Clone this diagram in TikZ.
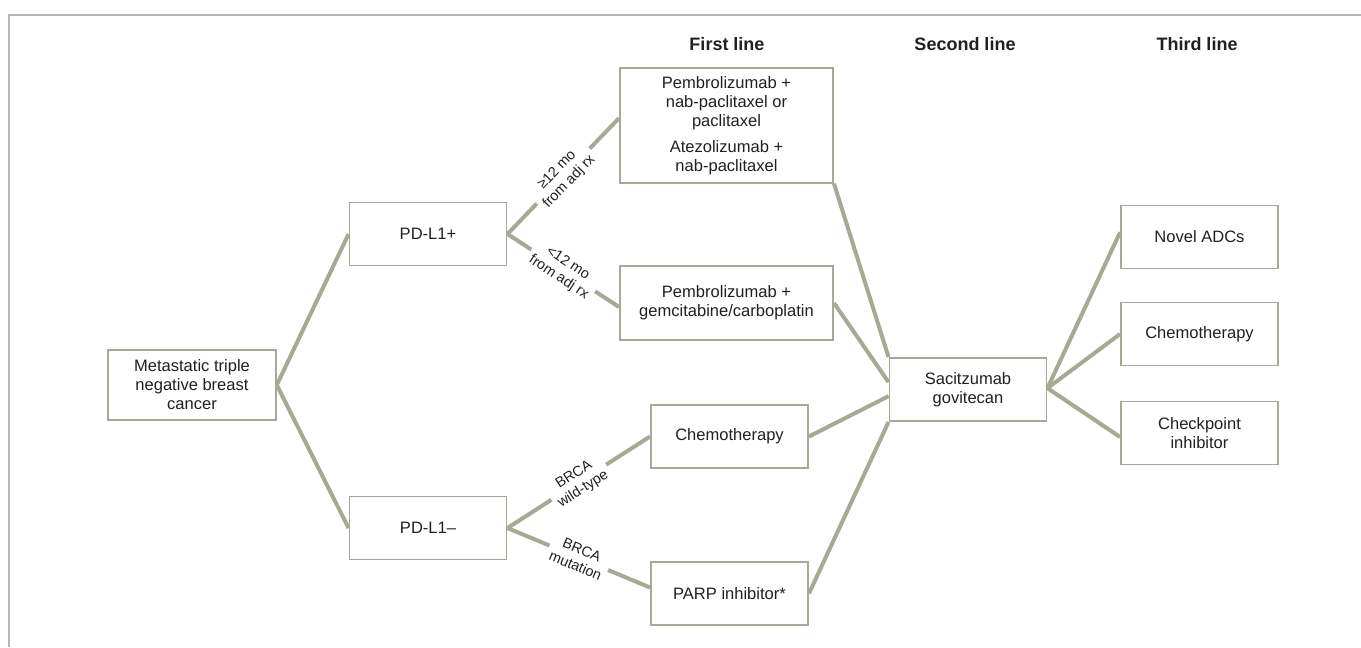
\documentclass[tikz,border=0pt]{standalone}
\usepackage{fontspec}
\setmainfont{Liberation Sans}
\usepackage{xcolor}

\definecolor{linegrey}{RGB}{168,168,150}
\definecolor{framegrey}{RGB}{184,184,176}
\definecolor{textgrey}{RGB}{35,31,32}

\tikzset{
  box/.style={draw=linegrey, line width=1.2pt, fill=white, align=center, text=textgrey,
    inner sep=2pt, minimum width=118pt, minimum height=47.5pt,
    font=\fontsize{12.4}{14.3}\selectfont},
  link/.style={draw=linegrey, line width=3pt},
  tag/.style={midway, sloped, fill=white, align=center, text=textgrey, inner sep=3pt,
    font=\fontsize{10.8}{12.6}\selectfont},
  head/.style={text=textgrey, font=\fontsize{13.5}{16}\selectfont\bfseries}
}

\begin{document}
\begin{tikzpicture}[x=0.75pt,y=-0.75pt]
    \useasboundingbox (0,0) rectangle (1361,647);

    % Draw the frame
    \draw[framegrey, line width=1pt] (9,647) |- (1361,15);

    % Draw column heads
    \node[head] (first) at (727,44) {First line};
    \node[head] (second) at (965,44) {Second line};
    \node[head] (third) at (1197,44) {Third line};

    % Draw the boxes
    \node[box, minimum width=126pt, minimum height=52.5pt] (meta) at (192,385) {Metastatic triple\\negative breast\\cancer};
    \node[box] (pdpos) at (428,234) {PD-L1+};
    \node[box] (pdneg) at (428,528) {PD-L1--};
    \node[box, minimum width=160pt, minimum height=86pt] (pembro) at (726.5,125.5) {Pembrolizumab +\\nab-paclitaxel or\\paclitaxel\\[5pt]Atezolizumab +\\nab-paclitaxel};
    \node[box, minimum width=160pt, minimum height=55.5pt] (gemcarbo) at (726.5,303) {Pembrolizumab +\\gemcitabine/carboplatin};
    \node[box] (chemofirst) at (729.5,436.5) {Chemotherapy};
    \node[box] (parp) at (729.5,593.5) {PARP inhibitor*};
    \node[box] (sg) at (968,389.5) {Sacitzumab\\govitecan};
    \node[box] (adc) at (1199.5,237) {Novel ADCs};
    \node[box] (chemothird) at (1199.5,334) {Chemotherapy};
    \node[box] (cpi) at (1199.5,433) {Checkpoint\\inhibitor};

    % Draw the branches
    \draw[link] (meta.east) -- (pdpos.west);
    \draw[link] (meta.east) -- (pdneg.west);
    \draw[link] (pdpos.east) -- ([yshift=5.5pt]pembro.west) node[tag] {≥12 mo\\from adj rx};
    \draw[link] (pdpos.east) -- ([yshift=-3pt]gemcarbo.west) node[tag] {<12 mo\\from adj rx};
    \draw[link] (pdneg.east) -- (chemofirst.west) node[tag] {BRCA\\wild-type};
    \draw[link] (pdneg.east) -- ([yshift=4.5pt]parp.west) node[tag] {BRCA\\mutation};

    % Draw the second line links
    \draw[link] (pembro.south east) -- (sg.north west);
    \draw[link] (gemcarbo.east) -- ([yshift=5.5pt]sg.west);
    \draw[link] (chemofirst.east) -- ([yshift=-5pt]sg.west);
    \draw[link] (parp.east) -- (sg.south west);

    % Draw the third line links
    \draw[link] ([yshift=1pt]sg.east) -- ([yshift=3.5pt]adc.west);
    \draw[link] ([yshift=1pt]sg.east) -- (chemothird.west);
    \draw[link] ([yshift=1pt]sg.east) -- ([yshift=-3pt]cpi.west);
\end{tikzpicture}
\end{document}
